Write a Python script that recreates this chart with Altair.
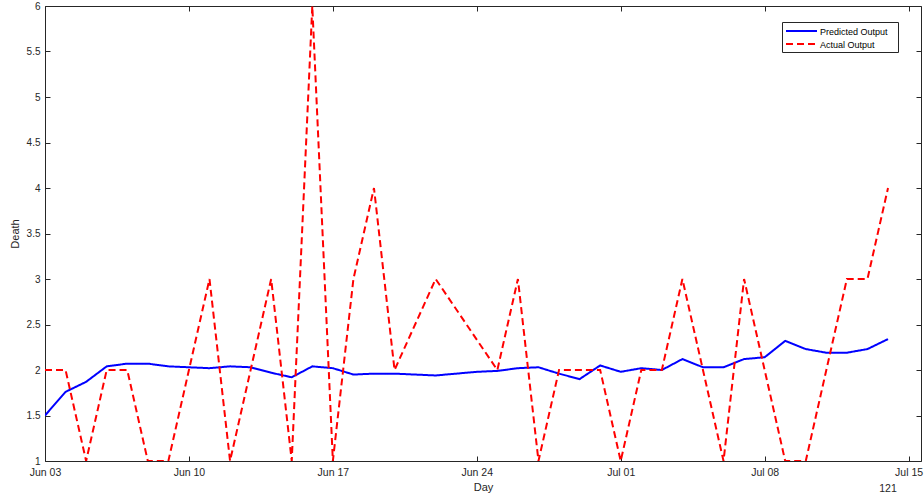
import altair as alt
import pandas as pd

# ---------------- data ----------------
dates = [
    "2021-06-03", "2021-06-04", "2021-06-05", "2021-06-06", "2021-06-07", "2021-06-08",
    "2021-06-09", "2021-06-10", "2021-06-11", "2021-06-12", "2021-06-13", "2021-06-14",
    "2021-06-15", "2021-06-16", "2021-06-17", "2021-06-18", "2021-06-19", "2021-06-20",
    "2021-06-21", "2021-06-22", "2021-06-23", "2021-06-24", "2021-06-25", "2021-06-26",
    "2021-06-27", "2021-06-28", "2021-06-29", "2021-06-30", "2021-07-01", "2021-07-02",
    "2021-07-03", "2021-07-04", "2021-07-05", "2021-07-06", "2021-07-07", "2021-07-08",
    "2021-07-09", "2021-07-10", "2021-07-11", "2021-07-12", "2021-07-13", "2021-07-14",
]
predicted = [1.50, 1.76, 1.87, 2.04, 2.07, 2.07, 2.04, 2.03, 2.02, 2.04, 2.03, 1.97,
             1.92, 2.04, 2.02, 1.95, 1.96, 1.96, 1.95, 1.94, 1.96, 1.98, 1.99, 2.02,
             2.03, 1.96, 1.90, 2.05, 1.98, 2.02, 2.00, 2.12, 2.03, 2.03, 2.12, 2.14,
             2.32, 2.23, 2.19, 2.19, 2.23, 2.34]
actual = [2, 2, 1, 2, 2, 1, 1, 2, 3, 1, 2, 3,
          1, 6, 1, 3, 4, 2, None, 3, None, None, 2, 3,
          1, 2, 2, 2, 1, 2, 2, 3, 2, 1, 3, 2,
          1, 1, 2, 3, 3, 4]
series_names = ["Predicted Output", "Actual Output"]
series_colors = ["#0000ff", "#ff0000"]
y_ticks = [1, 1.5, 2, 2.5, 3, 3.5, 4, 4.5, 5, 5.5, 6]
x_tick_dates = [(6, 3), (6, 10), (6, 17), (6, 24), (7, 1), (7, 8), (7, 15)]
year_label = ["121"]

rows = []
for d, p in zip(dates, predicted):
    rows.append({"date": d, "value": p, "series": series_names[0]})
for d, a in zip(dates, actual):
    if a is not None:
        rows.append({"date": d, "value": a, "series": series_names[1]})
df = pd.DataFrame(rows)

FONT = "Liberation Sans"
TXT = "#262626"
W, H = 876, 455
DASH = [7, 4]

x_values = [alt.DateTime(year=2021, month=m, date=d, utc=True) for m, d in x_tick_dates]
x_scale = alt.Scale(type="utc", domain=[alt.DateTime(year=2021, month=6, date=3, utc=True),
                                        alt.DateTime(year=2021, month=7, date=15, hours=14, minutes=30, utc=True)])
y_scale = alt.Scale(domain=[1, 6], nice=False, zero=False)

common_axis = dict(grid=False, domain=False, tickSize=5, offset=-5, tickColor=TXT,
                   labelFont=FONT, labelColor=TXT, titleFont=FONT, titleColor=TXT,
                   titleFontWeight="normal", labelFlush=False, labelOverlap=False)

lines = alt.Chart(df).mark_line(strokeWidth=2, clip=True).encode(
    x=alt.X("date:T", scale=x_scale,
            axis=alt.Axis(values=x_values, labelExpr="utcFormat(datum.value, '%b %d')", title="Day",
                          labelFontSize=10.5, titleFontSize=11, labelPadding=6, titlePadding=4,
                          **common_axis)),
    y=alt.Y("value:Q", scale=y_scale,
            axis=alt.Axis(values=y_ticks, format="~g", title="Death", labelFontSize=10,
                          titleFontSize=11, labelPadding=5, titlePadding=6, **common_axis)),
    color=alt.Color("series:N", scale=alt.Scale(domain=series_names, range=series_colors), legend=None),
    strokeDash=alt.StrokeDash("series:N", scale=alt.Scale(domain=series_names, range=[[1, 0], DASH]),
                              legend=None),
    detail="series:N",
)

mirror_axis = dict(grid=False, domain=False, tickSize=5, offset=-5, tickColor=TXT, labels=False, title=None)
mirror = alt.Chart(df).mark_line(opacity=0).encode(
    x=alt.X("date:T", scale=x_scale, axis=alt.Axis(orient="top", values=x_values, **mirror_axis)),
    y=alt.Y("value:Q", scale=y_scale, axis=alt.Axis(orient="right", values=y_ticks, **mirror_axis)),
    detail="series:N",
)

# legend (drawn as a small boxed key in the top-right corner)
leg_box = alt.Chart(pd.DataFrame({"k": [0]})).mark_rect(
    fill="white", stroke=TXT, strokeWidth=1
).encode(x=alt.value(737.5), x2=alt.value(853.5), y=alt.value(16.5), y2=alt.value(46.5))
leg_sym1 = alt.Chart(pd.DataFrame({"k": [0]})).mark_rule(
    color=series_colors[0], strokeWidth=2
).encode(x=alt.value(741), x2=alt.value(772), y=alt.value(25), y2=alt.value(25))
leg_sym2 = alt.Chart(pd.DataFrame({"k": [0]})).mark_rule(
    color=series_colors[1], strokeWidth=2, strokeDash=DASH
).encode(x=alt.value(741), x2=alt.value(772), y=alt.value(38), y2=alt.value(38))
leg_txt1 = alt.Chart(pd.DataFrame({"t": [series_names[0]]})).mark_text(
    align="left", baseline="middle", font=FONT, fontSize=9, color="black"
).encode(x=alt.value(775), y=alt.value(25.5), text="t:N")
leg_txt2 = alt.Chart(pd.DataFrame({"t": [series_names[1]]})).mark_text(
    align="left", baseline="middle", font=FONT, fontSize=9, color="black"
).encode(x=alt.value(775), y=alt.value(38.5), text="t:N")

year = alt.Chart(pd.DataFrame({"t": year_label})).mark_text(
    align="center", baseline="middle", font=FONT, fontSize=10.5, color=TXT
).encode(x=alt.value(843), y=alt.value(483), text="t:N")

chart = alt.layer(lines, mirror, leg_box, leg_sym1, leg_sym2, leg_txt1, leg_txt2, year).resolve_axis(
    x="independent", y="independent"
).properties(
    width=W, height=H,
    padding={"left": 45, "top": 6, "right": 3, "bottom": 40},
    autosize=alt.AutoSizeParams(type="none"),
    background="white",
).configure_view(stroke=TXT, strokeWidth=1)

chart.save("out.html", embed_options={"renderer": "svg", "actions": False})
